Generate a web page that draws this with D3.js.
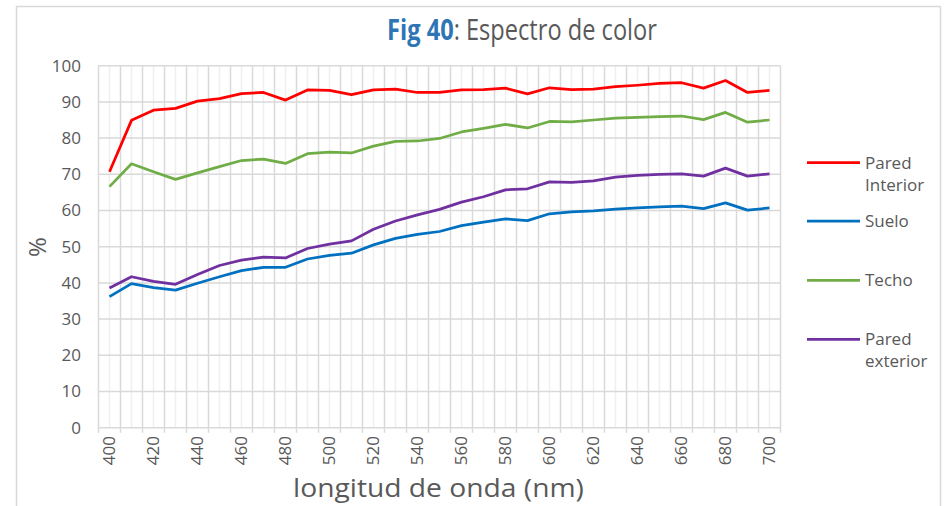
<!DOCTYPE html>
<html><head><meta charset="utf-8">
<script src="https://cdn.jsdelivr.net/npm/d3@7"></script>
<style>body{margin:0;background:#fff}svg{display:block}text{font-family:"Open Sans","DejaVu Sans",sans-serif}</style>
</head><body><svg id="c" width="948" height="506"></svg>
<script>
const wavelengths = d3.range(400, 701, 10);
const paredInterior = [70.7,84.9,87.7,88.2,90.2,90.9,92.3,92.6,90.5,93.3,93.2,92.0,93.3,93.5,92.6,92.6,93.3,93.4,93.8,92.2,93.9,93.4,93.5,94.2,94.6,95.1,95.3,93.8,95.9,92.6,93.2];
const suelo = [36.2,39.8,38.7,38.0,39.9,41.7,43.4,44.3,44.3,46.6,47.6,48.2,50.5,52.3,53.4,54.2,55.8,56.8,57.7,57.2,59.1,59.6,59.9,60.4,60.7,61.0,61.2,60.5,62.1,60.1,60.7];
const techo = [66.6,72.9,70.7,68.6,70.4,72.1,73.8,74.2,73.0,75.7,76.1,75.9,77.8,79.1,79.2,79.9,81.7,82.7,83.8,82.8,84.6,84.5,85.0,85.5,85.7,85.9,86.1,85.1,87.1,84.4,85.0];
const paredExterior = [38.6,41.7,40.4,39.6,42.3,44.8,46.3,47.1,46.9,49.5,50.7,51.6,54.8,57.1,58.8,60.3,62.3,63.8,65.7,66.0,67.9,67.8,68.2,69.2,69.7,70.0,70.1,69.5,71.7,69.5,70.1];
const seriesNames = ["Pared Interior","Suelo","Techo","Pared exterior"];
const seriesColors = ["#FF0000","#0070C0","#70AD47","#7030A0"];
const yTicks = d3.range(0, 101, 10);
const xTickLabels = d3.range(400, 701, 20);

const series = [paredInterior, suelo, techo, paredExterior];
const svg = d3.select("#c");
const L = 98.5, R = 780.5, T = 65.7, B = 427.7;
const grey = "#595959";

svg.append("rect").attr("x",16.5).attr("y",6.5).attr("width",924).attr("height",520)
  .attr("fill","#fff").attr("stroke","#d9d9d9").attr("stroke-width",1.5);

const x = d3.scaleBand().domain(wavelengths).range([L, R]).padding(0);
const y = d3.scaleLinear().domain([0, 100]).range([B, T]);
const cx = d => x(d) + x.bandwidth()/2;

svg.append("g").selectAll("line").data(wavelengths).join("line")
  .attr("x1", d=>cx(d)).attr("x2", d=>cx(d)).attr("y1", T).attr("y2", B)
  .attr("stroke","#efefef").attr("stroke-width",1.5);
const bounds = wavelengths.map(d=>x(d)).concat([R]);
svg.append("g").selectAll("line").data(bounds).join("line")
  .attr("x1", d=>d).attr("x2", d=>d).attr("y1", T).attr("y2", B+5)
  .attr("stroke","#d9d9d9").attr("stroke-width",1.5);
svg.append("g").selectAll("line").data(yTicks).join("line")
  .attr("x1", L).attr("x2", R).attr("y1", d=>y(d)).attr("y2", d=>y(d))
  .attr("stroke","#d9d9d9").attr("stroke-width",1.5);

svg.append("g").selectAll("text").data(yTicks).join("text")
  .attr("x", 81).attr("y", d=>y(d)).attr("dy","0.35em").attr("text-anchor","end")
  .attr("font-size",17).attr("fill",grey).text(d=>d);

svg.append("g").selectAll("text").data(xTickLabels).join("text")
  .attr("transform", d=>`translate(${cx(d)},${436}) rotate(-90)`)
  .attr("dy","0.35em").attr("text-anchor","end")
  .attr("font-size",17).attr("fill",grey).text(d=>d);

const line = d3.line().x((d,i)=>cx(wavelengths[i])).y(d=>y(d));
series.forEach((s,i)=>{
  svg.append("path").datum(s).attr("d", line).attr("fill","none")
    .attr("stroke", seriesColors[i]).attr("stroke-width",2.75).attr("stroke-linejoin","round");
});

const legY = [162.7, 221, 280.3, 339.3];
seriesNames.forEach((n,i)=>{
  svg.append("line").attr("x1",807).attr("x2",860).attr("y1",legY[i]).attr("y2",legY[i])
    .attr("stroke",seriesColors[i]).attr("stroke-width",2.75);
  const words = n.split(" ");
  const t = svg.append("text").attr("x",865).attr("y",legY[i])
    .attr("font-size",17).attr("fill",grey);
  words.forEach((w,j)=>t.append("tspan").attr("x",865).attr("dy", j===0?"0.35em":"22").text(w));
});

svg.append("text").attr("transform","translate(38,247) rotate(-90)").attr("text-anchor","middle")
  .attr("dy","0.35em").attr("font-size",24).attr("fill",grey).text("%");
const xt = svg.append("text").attr("x",438.5).attr("y",497).attr("text-anchor","middle")
  .attr("font-size",25).attr("fill",grey).text("longitud de onda (nm)");

const tt = svg.append("text").attr("y",40).attr("font-size",29).attr("fill",grey);
tt.append("tspan").attr("fill","#2E75B6").attr("font-weight","bold").text("Fig 40");
tt.append("tspan").text(": Espectro de color");
const tw = tt.node().getComputedTextLength();
const sx = 270 / tw;
tt.attr("transform", `translate(387,0) scale(${sx},1)`);
const xw = xt.node().getComputedTextLength();
xt.attr("transform", `translate(${438.5*(1-291/xw)},0) scale(${291/xw},1)`);
</script></body></html>
